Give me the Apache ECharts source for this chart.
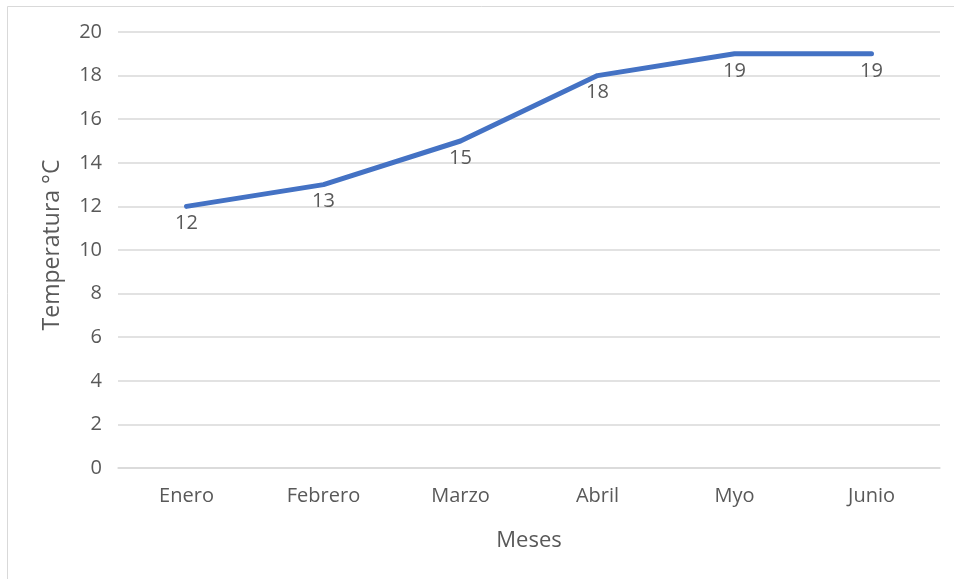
<!DOCTYPE html>
<html>
<head>
<meta charset="utf-8">
<script src="https://cdn.jsdelivr.net/npm/echarts@6/dist/echarts.min.js"></script>
<style>
  html, body { margin: 0; padding: 0; background: #ffffff; }
  #chart { width: 954px; height: 579px; }
</style>
</head>
<body>
<div id="chart"></div>
<script>
// Monthly temperature readings
const months = ['Enero', 'Febrero', 'Marzo', 'Abril', 'Myo', 'Junio'];
const temperatures = [12, 13, 15, 18, 19, 19];
const yTicks = [0, 2, 4, 6, 8, 10, 12, 14, 16, 18, 20];

const FONT = '"Open Sans", Lato, sans-serif';
const TEXT = '#595959';
const LINE = '#4472C4';

const chart = echarts.init(document.getElementById('chart'), null, { renderer: 'canvas' });

chart.setOption({
  backgroundColor: '#ffffff',
  animation: false,
  graphic: [{
    type: 'rect',
    shape: { x: 7.5, y: 6.5, width: 1200, height: 1200 },
    style: { fill: 'none', stroke: '#d9d9d9', lineWidth: 1 },
    silent: true
  }],
  grid: { left: 118, right: 14, top: 32, bottom: 111, containLabel: false },
  xAxis: {
    type: 'category',
    data: months,
    boundaryGap: true,
    name: 'Meses',
    nameLocation: 'middle',
    nameGap: 62,
    nameTextStyle: { color: TEXT, fontSize: 22, fontFamily: FONT },
    axisLine: { show: true, lineStyle: { color: '#d9d9d9', width: 1.5 } },
    axisTick: { show: false },
    axisLabel: { color: TEXT, fontSize: 20, fontFamily: FONT, margin: 18 }
  },
  yAxis: {
    type: 'value',
    min: yTicks[0],
    max: yTicks[yTicks.length - 1],
    interval: 2,
    name: 'Temperatura °C',
    nameLocation: 'middle',
    nameGap: 54,
    nameRotate: 90,
    nameTextStyle: { color: TEXT, fontSize: 23, fontFamily: FONT, padding: [0, 0, 0, 10] },
    axisLine: { show: false },
    axisTick: { show: false },
    axisLabel: { color: TEXT, fontSize: 20, fontFamily: FONT, margin: 16 },
    splitLine: { show: true, lineStyle: { color: '#d9d9d9', width: 1.5 } }
  },
  series: [{
    type: 'line',
    data: temperatures,
    symbol: 'circle',
    symbolSize: 2,
    showSymbol: true,
    itemStyle: { color: LINE },
    lineStyle: { color: LINE, width: 5, cap: 'round', join: 'round' },
    label: {
      show: true,
      position: 'bottom',
      distance: 6,
      color: TEXT,
      fontSize: 20,
      fontFamily: FONT
    },
    labelLayout: { hideOverlap: false }
  }]
});
</script>
</body>
</html>
